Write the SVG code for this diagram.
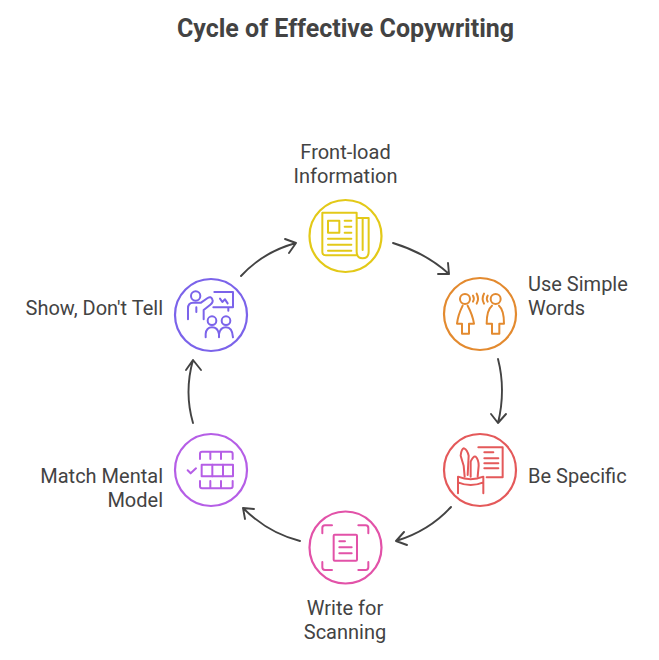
<svg xmlns="http://www.w3.org/2000/svg" width="659" height="660" viewBox="0 0 659 660">
<style>
text{font-family:"Roboto","Liberation Sans",sans-serif;font-size:20px;fill:#434343}
.title{font-size:25px;font-weight:700;text-anchor:middle}
.m{text-anchor:middle}.e{text-anchor:end}
.c{fill:#fff;stroke-width:2.2}
.i{fill:none;stroke-width:6;stroke-linecap:round;stroke-linejoin:round}
.a{fill:none;stroke:#434343;stroke-width:1.9;stroke-linecap:round;stroke-linejoin:round}
</style>
<rect width="659" height="660" fill="#fff"/>
<text class="title" x="345.500" y="37">Cycle of Effective Copywriting</text>
<g id="connectors">
<path class="a" d="M393 243Q426 253 449 274M448 263L449 274L438 274"/>
<path class="a" d="M498 359Q506 390 498 423M491 414L498 423L506 414"/>
<path class="a" d="M451 507Q429 531 396 541M404 532L396 541L407 545"/>
<path class="a" d="M300 541Q268 533 243 508M254 509L243 508L245 519"/>
<path class="a" d="M193 423Q184 392 193 360M186 370L193 360L201 370"/>
<path class="a" d="M241 276Q263 252 296 243M285 239L296 243L289 253"/>
</g>
<g id="n1" stroke="#e3c918">
<circle class="c" cx="345.500" cy="236" r="36"/>
<g class="i" transform="translate(290 190) scale(.3333)">
<path d="M200 196H108Q97 196 97 185V68H200V185Q200 205 218 205Q236 205 236 185V84H200M218 84V180"/>
<rect x="114" y="92" width="34" height="36"/>
<path d="M164 92H184M164 110H184M164 128H184M114 146H184M114 164H184M114 182H184"/>
</g>
<text x="345.500" y="159" class="m" stroke="none">Front-load</text>
<text x="345.500" y="183" class="m" stroke="none">Information</text>
</g>
<g id="n2" stroke="#e38a2f">
<circle class="c" cx="480" cy="314" r="36"/>
<g class="i" transform="translate(430 265) scale(.3333)">
<circle cx="105" cy="102" r="15"/><circle cx="197" cy="102" r="15"/>
<path d="M98 122Q84 150 81 176H96V206H117V176H132Q128 150 113 122"/>
<path d="M186 122Q170 135 170 176H186V206H208V176H222Q222 135 207 122"/>
<path d="M129 92Q134 100 129 110M140 86Q148 100 140 116M173 92Q168 100 173 110M162 86Q154 100 162 116"/>
</g>
<text x="528" y="291" stroke="none">Use Simple</text>
<text x="528" y="315" stroke="none">Words</text>
</g>
<g id="n3" stroke="#e4595a">
<circle class="c" cx="480" cy="470" r="36"/>
<g class="i" transform="translate(430 425) scale(.3333)">
<path d="M84 205V155Q122 170 160 155V205M84 172Q122 188 160 172"/>
<path d="M104 155L101 122L92 92Q94 72 102 70Q112 74 116 92L113 150"/>
<path d="M122 155V110Q130 92 137 95Q146 104 146 122L143 155"/>
<path d="M145 67H218V157H170"/>
<path d="M163 82H190M163 100H205M163 115H205M163 130H205"/>
</g>
<text x="528" y="483" stroke="none">Be Specific</text>
</g>
<g id="n4" stroke="#e252a8">
<circle class="c" cx="345.500" cy="547.500" r="36"/>
<g class="i" transform="translate(295 500) scale(.3333)">
<path d="M82 100V84Q82 76 90 76H111M190 76H212Q220 76 220 84V100M82 186V202Q82 210 90 210H111M190 210H212Q220 210 220 202V186"/>
<rect x="116" y="104" width="70" height="78" rx="3"/>
<path d="M133 124H150M133 142H170M133 160H170"/>
</g>
<text x="345" y="615" class="m" stroke="none">Write for</text>
<text x="345" y="639" class="m" stroke="none">Scanning</text>
</g>
<g id="n5" stroke="#b55ee6">
<circle class="c" cx="211" cy="470" r="36"/>
<g class="i" transform="translate(165 425) scale(.3333)">
<path d="M105 102V86Q105 80 111 80H197Q203 80 203 86V102M136 80V102M168 80V102"/>
<rect x="110" y="119" width="94" height="35"/>
<path d="M142 119V154M174 119V154"/>
<path d="M105 168V184Q105 190 111 190H197Q203 190 203 184V168M136 168V190M168 168V190"/>
<path d="M68 136L77 145L93 130"/>
</g>
<text x="163" y="483" class="e" stroke="none">Match Mental</text>
<text x="163" y="507" class="e" stroke="none">Model</text>
</g>
<g id="n6" stroke="#7b63ea">
<circle class="c" cx="211" cy="315" r="36"/>
<g class="i" transform="translate(165 270) scale(.3333)">
<circle cx="92" cy="78" r="14"/>
<path d="M69 148V115Q69 98 84 98H108L128 84Q138 78 142 88Q146 96 136 104L116 120V148M94 112V126"/>
<path d="M148 66H204V112H145M190 112V122"/>
<path d="M165 86L172 96L180 88L188 100"/>
<circle cx="141" cy="152" r="13"/><circle cx="183" cy="152" r="13"/>
<path d="M122 202V192Q124 172 141 172Q158 172 162 192Q166 172 183 172Q202 172 204 202M162 192V202"/>
</g>
<text x="163" y="315" class="e" stroke="none">Show, Don't Tell</text>
</g>
</svg>
